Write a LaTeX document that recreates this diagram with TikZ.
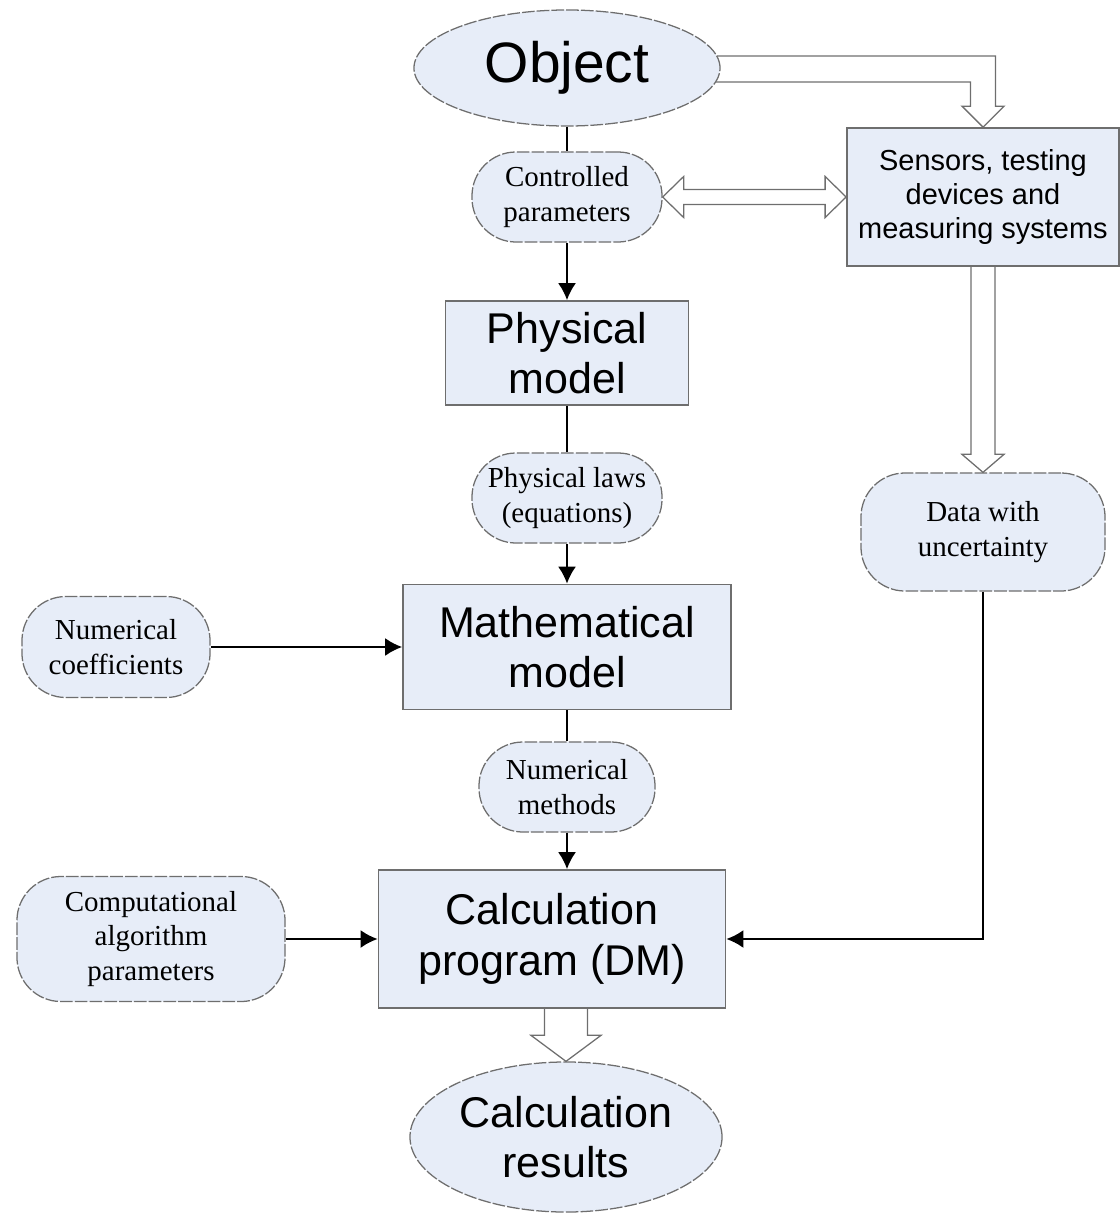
\documentclass[tikz,border=0pt]{standalone}
\usepackage{fontspec}
\setmainfont{Liberation Serif}
\setsansfont{Liberation Sans}
\usepackage{tikz}
\usetikzlibrary{shapes.geometric,arrows.meta,calc}
\definecolor{mycolor1}{RGB}{231,237,248}
\definecolor{mycolor2}{RGB}{110,110,110}
\newcommand{\hugetxt}{\sffamily\fontsize{40.5}{46}\selectfont}
\newcommand{\bigtxt}{\sffamily\fontsize{30.6}{36}\selectfont}
\newcommand{\smtxt}{\sffamily\fontsize{20.6}{24.2}\selectfont}
\newcommand{\sertxt}{\rmfamily\fontsize{20.6}{24.4}\selectfont}

\begin{document}
\begin{tikzpicture}[x=0.025cm,y=-0.025cm,
        block/.style  = {draw=mycolor2, rectangle, line width=1.2pt, fill=mycolor1, align=center, inner sep=0pt},
]
\tikzstyle{oval}=[ellipse, draw=mycolor2, dash pattern=on 9pt off 1.5pt, line width=0.9pt, fill=mycolor1, align=center, inner sep=0pt, font=\bigtxt]
\tikzstyle{term}=[rectangle, rounded corners=1.1cm, draw=mycolor2, dash pattern=on 9pt off 1.5pt, line width=0.9pt, fill=mycolor1, align=center, inner sep=0pt, font=\sertxt]
\tikzstyle{connect}=[-{Latex[length=0.425cm,width=0.45cm]}, line width=1.4pt]
\tikzstyle{plain}=[line width=1.4pt]
\tikzstyle{hollow}=[draw=mycolor2, line width=0.9pt, line join=miter]

	\useasboundingbox (0,0) rectangle (1119,1217);

	% main column
	\node[oval, minimum width=7.65cm, minimum height=2.9cm, font=\hugetxt] (obj) at (567,68) {Object};
	\node[term, minimum width=4.75cm, minimum height=2.25cm] (ctrl) at (567,197) {Controlled\\parameters};
	\node[block, minimum width=6.075cm, minimum height=2.6cm, font=\bigtxt] (phys) at (567,353) {Physical\\model};
	\node[term, minimum width=4.75cm, minimum height=2.25cm] (laws) at (567,498) {Physical laws\\(equations)};
	\node[block, minimum width=8.2cm, minimum height=3.125cm, font=\bigtxt] (math) at (567,647) {Mathematical\\model};
	\node[term, minimum width=4.4cm, minimum height=2.25cm] (meth) at (567,787) {Numerical\\methods};
	\node[block, minimum width=8.675cm, minimum height=3.45cm, font=\bigtxt] (calc) at (552,939) {Calculation\\program (DM)};
	\node[oval, minimum width=7.8cm, minimum height=3.75cm] (res) at (566,1137) {Calculation\\results};

	% left column
	\node[term, minimum width=4.7cm, minimum height=2.525cm] (coef) at (116,647) {Numerical\\coefficients};
	\node[term, minimum width=6.7cm, minimum height=3.125cm] (comp) at (151,939) {Computational\\algorithm\\parameters};

	% right column
	\node[block, minimum width=6.8cm, minimum height=3.45cm, font=\smtxt] (sens) at (983,197) {Sensors, testing\\devices and\\measuring systems};
	\node[term, minimum width=6.1cm, minimum height=2.95cm] (data) at (983,532) {Data with\\uncertainty};

	\path
		(obj) edge [plain] (ctrl)
		(ctrl) edge [connect] (phys)
		(phys) edge [plain] (laws)
		(laws) edge [connect] (math)
		(math) edge [plain] (meth)
		(meth) edge [connect] (meth.south |- calc.north)
		(coef) edge [connect] (math)
		(comp) edge [connect] (calc);
	\draw[connect] (data.south) |- (calc.east);

	% hollow arrows
	\draw[hollow] ($(obj.east)+(-4,-12)$) -| ($(sens.north)+(12.5,-21)$) -- ++(8.5,0) -- (sens.north)
		-- ++(-21,-21) -- ++(8.5,0) |- ($(obj.east)+(-5,14)$);
	\draw[hollow] (ctrl.east) -- ++(21,-20.5) -- ++(0,13) -- ($(sens.west)+(-21,-7.5)$) -- ++(0,-13) -- (sens.west)
		-- ++(-21,20.5) -- ++(0,-13) -- ($(ctrl.east)+(21,7.5)$) -- ++(0,13) -- cycle;
	\draw[hollow] ($(sens.south)+(-12,0)$) -- ($(data.north)+(-12,-18)$) -- ++(-9,0) -- (data.north)
		-- ++(21,-18) -- ++(-9,0) -- ($(sens.south)+(12,0)$);
	\draw[hollow] ($(res.north |- calc.south)+(-21.5,0)$) -- ($(res.north)+(-21.5,-26)$) -- ++(-13.5,0) -- (res.north)
		-- ++(35,-26) -- ++(-13.5,0) -- ($(res.north |- calc.south)+(21.5,0)$);

\end{tikzpicture}
\end{document}
